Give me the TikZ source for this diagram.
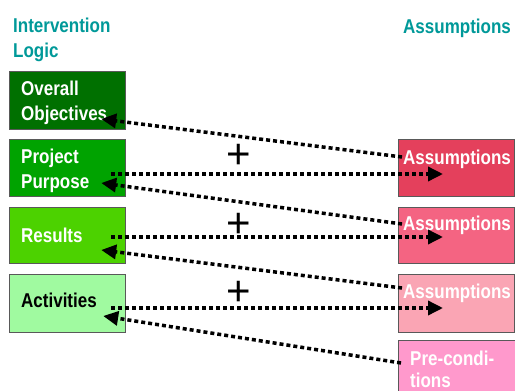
\documentclass[tikz,border=0pt]{standalone}
\usepackage{fontspec}
\newfontfamily\lf[FakeStretch=0.85]{Liberation Sans}
\newfontfamily\pf{Liberation Sans}
\usetikzlibrary{arrows.meta,calc}
\definecolor{headc}{RGB}{0,153,153}
\definecolor{ooc}{RGB}{0,112,0}
\definecolor{ppc}{RGB}{0,163,0}
\definecolor{rc}{RGB}{76,210,0}
\definecolor{actc}{RGB}{160,250,160}
\definecolor{a1c}{RGB}{228,64,92}
\definecolor{a2c}{RGB}{244,100,130}
\definecolor{a3c}{RGB}{250,165,180}
\definecolor{prec}{RGB}{255,153,204}
\begin{document}
\begin{tikzpicture}[x=1pt,y=-1pt,
  box/.style={draw=black!65, line width=1.2pt, anchor=north west, minimum width=116pt, minimum height=58pt, inner sep=0pt},
  lbl/.style={font=\lf\bfseries\fontsize{20}{25}\selectfont, text=white, align=left, anchor=base west, inner sep=0pt},
  head/.style={lbl, text=headc},
  dl/.style={line width=3.5pt, dash pattern=on 4pt off 3pt, -{Triangle[length=15pt,width=14pt]}},
  plus/.style={font=\pf\fontsize{42}{42}\selectfont, inner sep=0pt}]
\clip (0,0) rectangle (515,391);
\fill[white] (0,0) rectangle (515,391);
% headings
\node[head] (hIL) at (13,57) {Intervention\\Logic};
\node[head] (hAS) at (403,33) {Assumptions};
% left boxes
\node[box, fill=ooc, minimum height=58pt] (OO) at (9,71) {};
\node[box, fill=ppc, minimum height=57pt] (PP) at (9,139) {};
\node[box, fill=rc, minimum height=56pt] (R) at (9,207) {};
\node[box, fill=actc, minimum height=58pt] (Act) at (9,274) {};
% right boxes
\node[box, fill=a1c, minimum height=57pt] (A1) at (398,139) {};
\node[box, fill=a2c, minimum height=56pt] (A2) at (398,207) {};
\node[box, fill=a3c, minimum height=58pt] (A3) at (398,274) {};
\node[box, fill=prec, minimum width=130pt, minimum height=70pt] (Pre) at (398,340) {};
% texts
\node[lbl] (tOO) at (21,120) {Overall\\Objectives};
\node[lbl] (tPP) at (21,188) {Project\\Purpose};
\node[lbl] (tR) at (21,242) {Results};
\node[lbl, text=black] (tAct) at (21,307) {Activities};
\node[lbl] (tA1) at (403,164) {Assumptions};
\node[lbl] (tA2) at (403,230) {Assumptions};
\node[lbl] (tA3) at (403,298) {Assumptions};
\node[lbl, font=\lf\bfseries\fontsize{20}{22}\selectfont] (tPre) at (410,387) {Pre-condi-\\tions};
% plus signs
\node[plus] (p1) at (239,156) {+};
\node[plus] (p2) at (239,225) {+};
\node[plus] (p3) at (239,293) {+};
% connectors
\draw[dl] ($(A1.north west)+(4,18)$) -- ($(OO.north east)+(-25,48)$);
\draw[dl] ($(PP.north east)+(-15,35)$) -- ($(A1.north west)+(45,35)$);
\draw[dl] ($(A2.north west)+(4,17)$) -- ($(PP.north east)+(-25,44)$);
\draw[dl] ($(R.north east)+(-15,30)$) -- ($(A2.north west)+(45,30)$);
\draw[dl] ($(A3.north west)+(4,14)$) -- ($(R.north east)+(-25,43)$);
\draw[dl] ($(Act.north east)+(-15,34)$) -- ($(A3.north west)+(45,34)$);
\draw[dl] ($(Pre.north west)+(3,23)$) -- ($(Act.north east)+(-23,42)$);
\end{tikzpicture}
\end{document}
